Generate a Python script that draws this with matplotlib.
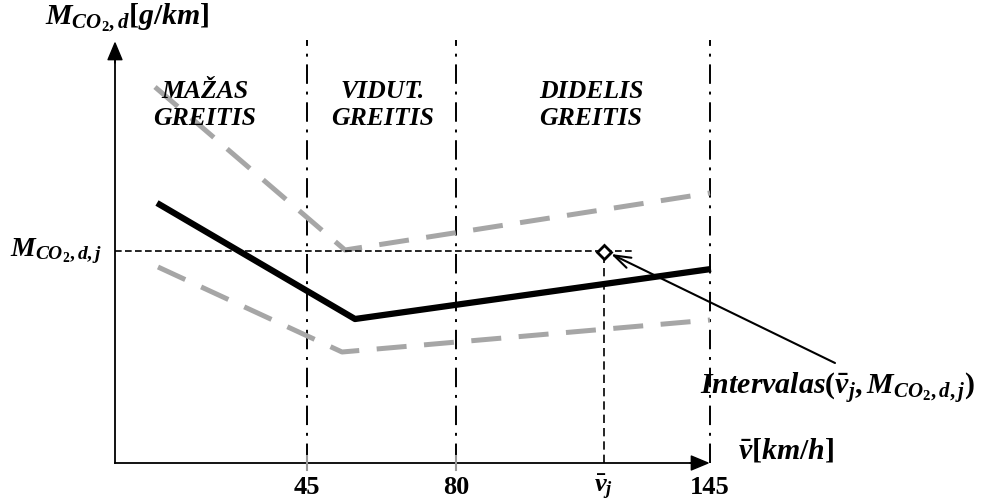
import matplotlib.pyplot as plt

plt.rcParams['mathtext.fontset'] = 'custom'
plt.rcParams['mathtext.it'] = 'Liberation Serif:italic:bold'
plt.rcParams['mathtext.rm'] = 'Liberation Serif:bold'
plt.rcParams['mathtext.bf'] = 'Liberation Serif:bold'

# schematic diagram units (speed axis positions are not to scale)
tick_pos = [192, 341, 489, 595]
tick_labels = ['45', '80', r'$\bar{v}_j$', '145']
zone_bounds = [192, 341, 595]
zone_names = ['MAŽAS\nGREITIS', 'VIDUT.\nGREITIS', 'DIDELIS\nGREITIS']
zone_centers = [90, 268, 476]

# emission curves
mean_x = [42, 240, 596]
mean_y = [260, 144, 194]
upper_x = [40, 230, 595]
upper_y = [376, 213, 270]
lower_x = [43, 227, 595]
lower_y = [196, 111, 143]

# chosen point
v_j = 489
m_j = 211

fig = plt.figure(figsize=(9.83, 5.03), dpi=100)
ax = fig.add_axes([0, 0, 1, 1])
ax.set_xlim(-115, 868)
ax.set_ylim(-40, 463)
ax.axis('off')

# axes with arrows
ax.plot([0, 585], [0, 0], color='black', lw=1.3)
ax.plot([0, 0], [0, 410], color='black', lw=1.3)
ax.annotate('', xy=(593, 0), xytext=(575, 0),
            arrowprops=dict(arrowstyle='simple,head_length=1.2,head_width=1.0,tail_width=0.01',
                            color='black', shrinkA=0, shrinkB=0))
ax.annotate('', xy=(0, 420), xytext=(0, 400),
            arrowprops=dict(arrowstyle='simple,head_length=1.2,head_width=1.0,tail_width=0.01',
                            color='black', shrinkA=0, shrinkB=0))

# zone boundaries
for xb in zone_bounds:
    ax.plot([xb, xb], [0, 423], color='black', lw=1.4, ls=(0, (10, 4, 1.5, 4)))
for xt in tick_pos[:2]:
    ax.plot([xt, xt], [-7, 7], color='#999999', lw=1.5)

for xc, name in zip(zone_centers, zone_names):
    ax.text(xc, 358, name, ha='center', va='center', fontsize=18.5,
            family='Liberation Serif', weight='bold', style='italic', linespacing=1.25)

# curves
ax.plot(upper_x, upper_y, color='#a6a6a6', lw=3.6, ls=(0, (6, 3.5)))
ax.plot(lower_x, lower_y, color='#a6a6a6', lw=3.6, ls=(0, (6, 3.5)))
ax.plot(mean_x, mean_y, color='black', lw=4.5, solid_capstyle='butt')

# chosen point guide lines
ax.plot([0, 520], [m_j + 1, m_j + 1], color='black', lw=1.2, ls=(0, (4, 2)))
ax.plot([v_j, v_j], [0, m_j], color='black', lw=1.2, ls=(0, (5, 3)))
ax.plot([v_j], [m_j], marker='D', ms=7.5, mfc='white', mec='black', mew=2)

ax.annotate('', xy=(v_j + 7, m_j - 2), xytext=(720, 100),
            arrowprops=dict(arrowstyle='->,head_length=1.2,head_width=0.4', lw=1.5, color='black',
                            shrinkA=0, shrinkB=0))
ax.text(585, 75, r'$Intervalas(\bar{v}_j, M_{CO_2,d,j})$', ha='left', va='center', fontsize=21.5)

# tick labels
for xt, lab in zip(tick_pos, tick_labels):
    ax.text(xt, -24, lab, ha='center', va='center', fontsize=19,
            family='Liberation Serif', weight='bold')

# axis titles
ax.text(-70, 445, r'$M_{CO_2,d}[g/km]$', ha='left', va='center', fontsize=21.5)
ax.text(-105, 212, r'$M_{CO_2,d,j}$', ha='left', va='center', fontsize=20)
ax.text(623, 13, r'$\bar{v}[km/h]$', ha='left', va='center', fontsize=21.5)

fig.savefig('out.png', dpi=100)
